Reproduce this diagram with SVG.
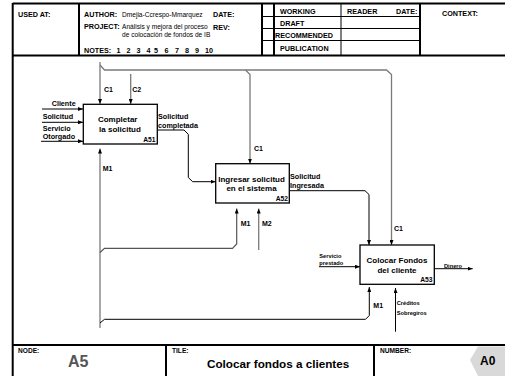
<svg xmlns="http://www.w3.org/2000/svg" width="505" height="376" viewBox="0 0 505 376">
<style>
text{font-family:"Liberation Sans",Arial,sans-serif;font-weight:bold;fill:#000}
.hl{font-size:7.2px}
.sm{font-size:6.6px;font-weight:normal}
.box{fill:#fff;stroke:#000;stroke-width:1.3}
.bt{font-size:8px;text-anchor:middle}
.id{font-size:6.7px;text-anchor:end}
.lb{font-size:7px}
.tn{font-size:5.7px}
.frame{stroke:#000;stroke-width:2;fill:none}
.thin{stroke:#000;stroke-width:1;fill:none}
.ctl{stroke:#7a7a7a;stroke-width:1.3;fill:none}
.mec{stroke:#555;stroke-width:1.2;fill:none}
.io{stroke:#000;stroke-width:1;fill:none}
</style>
<defs>
<marker id="ah" markerWidth="5" markerHeight="4" refX="5" refY="2" orient="auto" markerUnits="userSpaceOnUse"><path d="M0,0 L5,2 L0,4 z" fill="#000"/></marker>
</defs>
<rect width="505" height="376" fill="#fff"/>
<g id="frame">
<path class="frame" d="M12.7,3.5 H505 M12.7,3 V376 M12,55.5 H505 M12,345 H505"/>
<path class="frame" d="M79,3.5 V55.5 M262,3.5 V55.5 M274,3.5 V55.5 M420,3.5 V55.5 M166,345 V376 M374,345 V376"/>
<path class="thin" d="M341,3.5 V55.5 M262,16.5 H420 M262,28.5 H420 M262,40.5 H420"/>
<text class="hl" x="18" y="17">USED AT:</text>
<text class="hl" x="84" y="17">AUTHOR:</text>
<text class="sm" x="122" y="16.5">Dmejia-Ccrespo-Mmarquez</text>
<text class="hl" x="213" y="17">DATE:</text>
<text class="hl" x="84" y="29">PROJECT:</text>
<text class="sm" x="122" y="28.5">Análisis y mejora del proceso</text>
<text class="hl" x="213" y="29.5">REV:</text>
<text class="sm" x="122" y="36.5">de colocación de fondos de IB</text>
<text class="hl" x="84" y="52.5">NOTES:</text>
<text class="hl" x="116.5" y="52.5">1</text>
<text class="hl" x="126.5" y="52.5">2</text>
<text class="hl" x="136.5" y="52.5">3</text>
<text class="hl" x="146.5" y="52.5">4</text>
<text class="hl" x="154" y="52.5">5</text>
<text class="hl" x="164.5" y="52.5">6</text>
<text class="hl" x="175" y="52.5">7</text>
<text class="hl" x="185" y="52.5">8</text>
<text class="hl" x="195" y="52.5">9</text>
<text class="hl" x="205" y="52.5">10</text>
<text class="hl" x="280" y="13.5">WORKING</text>
<text class="hl" x="280" y="25.5">DRAFT</text>
<text class="hl" x="275" y="37.5">RECOMMENDED</text>
<text class="hl" x="280" y="50.5">PUBLICATION</text>
<text class="hl" x="347" y="13.5">READER</text>
<text class="hl" x="396" y="13.5">DATE:</text>
<text class="hl" x="442" y="16">CONTEXT:</text>
<text class="hl" x="18" y="353" style="font-size:6.6px">NODE:</text>
<text x="68" y="367" style="font-size:16px;fill:#555">A5</text>
<text class="hl" x="172" y="353" style="font-size:6.6px">TILE:</text>
<text x="207" y="368" style="font-size:11.7px">Colocar fondos a clientes</text>
<text class="hl" x="380" y="353" style="font-size:6.6px">NUMBER:</text>
<polygon points="470,360 478,346.5 505,346.5 505,376 478,376" fill="#d9d9d9"/>
<text x="480" y="365" style="font-size:12px">A0</text>
</g>
<g id="connectors">
<path class="io" d="M42,109 H83" marker-end="url(#ah)"/>
<path class="io" d="M42,122.3 H83" marker-end="url(#ah)"/>
<path class="io" d="M41,141.3 H83" marker-end="url(#ah)"/>
<path class="ctl" d="M100,62 V104" marker-end="url(#ah)"/>
<path class="ctl" d="M100,65 L104.5,70 H386.5 L391.5,74.5 V245" marker-end="url(#ah)"/>
<path class="ctl" d="M245.5,70 L250,74.5 V163.7" marker-end="url(#ah)"/>
<path class="ctl" d="M130.7,74 V104" marker-end="url(#ah)"/>
<path class="io" d="M157.3,130 H184 L188.3,134.3 V177.5 L192.7,181.7 H215.7" marker-end="url(#ah)"/>
<path class="io" d="M289.3,190.7 H365 L369,194.5 V245" marker-end="url(#ah)"/>
<path class="ctl" d="M100,328 V148.5" marker-end="url(#ah)"/>
<path class="mec" d="M100,252.5 L104.5,248.3 H232.5 L236.7,244 V208.5" marker-end="url(#ah)"/>
<path class="ctl" d="M258.7,250 V208.5" marker-end="url(#ah)"/>
<path class="io" d="M100,323 L104.5,319.3 H365.5 L369.3,315.5 V287" marker-end="url(#ah)"/>
<path class="io" d="M395.5,331.7 V288" marker-end="url(#ah)"/>
<path class="io" d="M319,266.7 H360" marker-end="url(#ah)"/>
<path class="io" d="M434.3,268.7 H472.7" marker-end="url(#ah)"/>
<text class="lb" x="104" y="91.5">C1</text>
<text class="lb" x="132.3" y="91.5">C2</text>
<text class="lb" x="254" y="150.5">C1</text>
<text class="lb" x="394" y="231">C1</text>
<text class="lb" x="102.7" y="170.5">M1</text>
<text class="lb" x="240.7" y="225.5">M1</text>
<text class="lb" x="262" y="225.5">M2</text>
<text class="lb" x="373.3" y="307.5">M1</text>
<text class="lb" x="51.7" y="106" style="font-size:7.2px">Cliente</text>
<text class="lb" x="42.7" y="118.5" style="font-size:7.2px">Solicitud</text>
<text class="lb" x="42.7" y="131" style="font-size:7.2px">Servicio</text>
<text class="lb" x="42.7" y="139" style="font-size:7.2px">Otorgado</text>
<text class="lb" x="158" y="118.5" style="font-size:7.2px">Solicitud</text>
<text class="lb" x="158" y="128" style="font-size:7.2px">completada</text>
<text class="lb" x="290" y="178.5" style="font-size:7.2px">Solicitud</text>
<text class="lb" x="290" y="187.5" style="font-size:7.2px">Ingresada</text>
<text class="tn" x="319.3" y="257.7">Servicio</text>
<text class="tn" x="319.3" y="264.7">prestado</text>
<text class="tn" x="444" y="267.5">Dinero</text>
<text class="tn" x="396.7" y="305.3">Créditos</text>
<text class="tn" x="396.7" y="315.3">Sobregiros</text>
</g>
<g id="A51">
<rect class="box" x="83.3" y="104.3" width="74" height="39.7"/>
<text class="bt" x="117.7" y="122">Completar</text>
<text class="bt" x="120" y="132">la solicitud</text>
<text class="id" x="155.5" y="142">A51</text>
</g>
<g id="A52">
<rect class="box" x="215.7" y="163.7" width="73.6" height="39.3"/>
<text class="bt" x="251.5" y="182">Ingresar solicitud</text>
<text class="bt" x="251.5" y="191">en el sistema</text>
<text class="id" x="288" y="201">A52</text>
</g>
<g id="A53">
<rect class="box" x="360" y="245" width="74.3" height="39.3"/>
<text class="bt" x="397" y="262.5">Colocar Fondos</text>
<text class="bt" x="397" y="272.5">del cliente</text>
<text class="id" x="432.5" y="282">A53</text>
</g>
</svg>
